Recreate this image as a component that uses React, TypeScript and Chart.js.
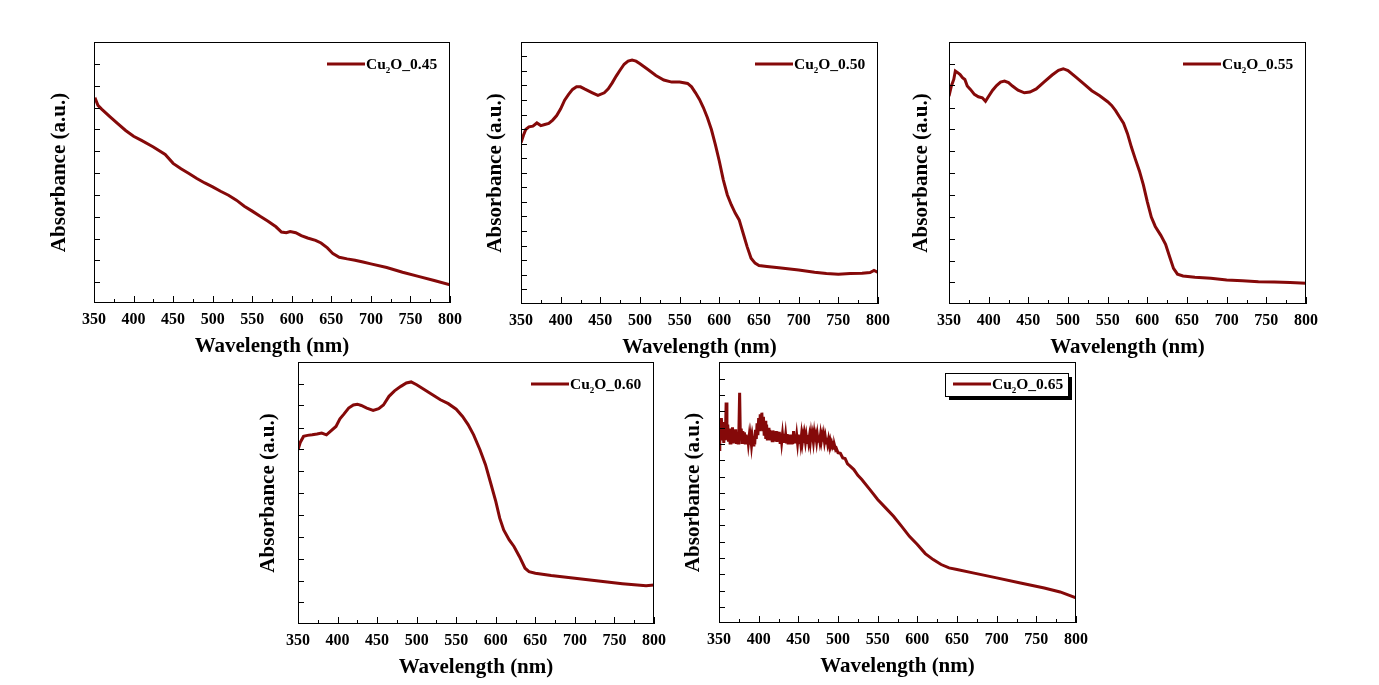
import React, { useEffect, useRef } from "react";
import { Chart, registerables } from "chart.js";

Chart.register(...registerables);

// ---------------- data ----------------
const X_MIN = 350;
const X_MAX = 800;
const X_LABEL = "Wavelength (nm)";
const Y_LABEL = "Absorbance (a.u.)";
const LINE_COLOR = "#850909";
const FONT = "'Liberation Serif', 'Times New Roman', serif";

const labels = ["Cu₂O_0.45", "Cu₂O_0.50", "Cu₂O_0.55", "Cu₂O_0.60", "Cu₂O_0.65"];

const wl1 = [350, 352, 355, 360, 370, 380, 390, 400, 410, 425, 440, 450, 460, 470, 480, 490, 500, 510, 520, 530, 540, 550, 560, 570, 580, 587, 593, 598, 605, 612, 620, 630, 637, 645, 652, 660, 670, 680, 690, 700, 720, 740, 760, 780, 800];
const ab1 = [0.774, 0.780, 0.757, 0.742, 0.714, 0.687, 0.661, 0.639, 0.623, 0.598, 0.569, 0.535, 0.514, 0.496, 0.477, 0.460, 0.445, 0.428, 0.413, 0.394, 0.371, 0.352, 0.332, 0.313, 0.292, 0.272, 0.269, 0.274, 0.269, 0.258, 0.249, 0.240, 0.230, 0.211, 0.189, 0.175, 0.169, 0.164, 0.157, 0.150, 0.136, 0.118, 0.102, 0.086, 0.070];

const wl2 = [350, 353, 356, 360, 365, 370, 375, 380, 385, 390, 395, 400, 405, 410, 415, 420, 425, 430, 440, 447, 455, 460, 465, 470, 475, 480, 485, 490, 495, 500, 510, 520, 530, 540, 550, 560, 565, 570, 575, 580, 585, 590, 595, 600, 605, 610, 615, 620, 625, 630, 635, 640, 645, 650, 660, 675, 700, 720, 735, 750, 765, 780, 790, 795, 800];
const ab2 = [0.615, 0.643, 0.666, 0.676, 0.679, 0.691, 0.681, 0.685, 0.689, 0.702, 0.719, 0.745, 0.778, 0.800, 0.819, 0.829, 0.829, 0.821, 0.806, 0.796, 0.806, 0.821, 0.844, 0.870, 0.893, 0.915, 0.927, 0.931, 0.927, 0.917, 0.895, 0.872, 0.855, 0.847, 0.847, 0.842, 0.829, 0.806, 0.781, 0.749, 0.711, 0.666, 0.608, 0.545, 0.474, 0.417, 0.379, 0.347, 0.321, 0.270, 0.219, 0.175, 0.156, 0.147, 0.143, 0.138, 0.130, 0.121, 0.116, 0.114, 0.116, 0.117, 0.120, 0.128, 0.121];

const wl3 = [350, 353, 356, 358, 361, 364, 367, 370, 373, 377, 382, 387, 392, 396, 400, 405, 410, 415, 420, 425, 430, 437, 445, 452, 460, 470, 480, 488, 494, 500, 510, 520, 530, 540, 550, 555, 560, 565, 570, 575, 580, 585, 590, 595, 600, 605, 610, 617, 623, 628, 633, 638, 645, 660, 680, 700, 720, 740, 760, 780, 800];
const ab3 = [0.793, 0.832, 0.857, 0.889, 0.883, 0.876, 0.864, 0.857, 0.832, 0.819, 0.800, 0.791, 0.787, 0.774, 0.793, 0.816, 0.834, 0.847, 0.851, 0.845, 0.832, 0.816, 0.806, 0.809, 0.821, 0.848, 0.874, 0.892, 0.898, 0.891, 0.866, 0.840, 0.814, 0.795, 0.772, 0.758, 0.738, 0.714, 0.690, 0.650, 0.598, 0.552, 0.508, 0.455, 0.390, 0.332, 0.296, 0.262, 0.228, 0.181, 0.136, 0.114, 0.107, 0.102, 0.098, 0.092, 0.089, 0.085, 0.084, 0.082, 0.079];

const wl4 = [350, 353, 357, 362, 368, 374, 380, 386, 392, 398, 403, 408, 414, 420, 425, 430, 437, 445, 452, 458, 465, 472, 480, 487, 493, 500, 510, 520, 530, 540, 550, 558, 565, 572, 580, 587, 593, 600, 605, 610, 617, 623, 630, 637, 642, 650, 670, 700, 730, 760, 790, 800];
const ab4 = [0.665, 0.694, 0.716, 0.720, 0.722, 0.725, 0.729, 0.722, 0.738, 0.754, 0.783, 0.801, 0.824, 0.836, 0.839, 0.834, 0.824, 0.815, 0.822, 0.836, 0.869, 0.890, 0.907, 0.920, 0.924, 0.913, 0.894, 0.875, 0.856, 0.841, 0.820, 0.792, 0.761, 0.722, 0.665, 0.608, 0.544, 0.468, 0.404, 0.359, 0.321, 0.296, 0.257, 0.213, 0.200, 0.194, 0.185, 0.175, 0.164, 0.154, 0.146, 0.149];

// Cu2O_0.65 : [wavelength, absorbance] pairs (noisy below ~490 nm)
const spectrum5: [number, number][] = [
  [350, 0.665], [351, 0.760], [352, 0.700], [353, 0.785], [354, 0.705], [355, 0.770], [356, 0.690], [357, 0.755],
  [358, 0.700], [359, 0.845], [360, 0.720], [361, 0.760], [362, 0.695], [363, 0.745], [364, 0.690], [365, 0.738],
  [366, 0.700], [367, 0.750], [368, 0.688], [369, 0.735], [370, 0.692], [371, 0.742], [372, 0.686], [373, 0.730],
  [374, 0.690], [375, 0.725], [376, 0.882], [377, 0.700], [378, 0.745], [379, 0.692], [380, 0.735], [381, 0.688],
  [382, 0.730], [383, 0.690], [384, 0.722], [385, 0.685], [386, 0.718], [387, 0.688], [388, 0.715], [389, 0.684],
  [390, 0.712], [391, 0.680], [392, 0.708], [393, 0.682], [394, 0.705], [395, 0.684], [396, 0.740], [397, 0.705],
  [398, 0.765], [399, 0.720], [400, 0.785], [401, 0.735], [402, 0.800], [403, 0.745], [404, 0.806], [405, 0.735],
  [406, 0.790], [407, 0.718], [408, 0.775], [409, 0.705], [410, 0.760], [411, 0.700], [412, 0.748], [413, 0.702],
  [414, 0.740], [415, 0.700], [416, 0.735], [417, 0.698], [418, 0.738], [419, 0.700], [420, 0.732], [421, 0.696],
  [422, 0.735], [423, 0.694], [424, 0.728], [425, 0.697], [426, 0.732], [427, 0.692], [428, 0.726], [429, 0.694],
  [430, 0.722], [431, 0.690], [432, 0.725], [433, 0.692], [434, 0.720], [435, 0.688], [436, 0.724], [437, 0.690],
  [438, 0.718], [439, 0.688], [440, 0.722], [441, 0.690], [442, 0.716], [443, 0.686], [444, 0.735], [445, 0.690],
  [446, 0.720], [447, 0.688], [448, 0.718], [449, 0.690], [450, 0.722], [451, 0.692], [452, 0.716], [453, 0.690],
  [454, 0.720], [455, 0.692], [456, 0.715], [457, 0.690], [458, 0.718], [459, 0.694], [460, 0.716], [461, 0.692],
  [462, 0.720], [463, 0.695], [464, 0.716], [465, 0.692], [466, 0.722], [467, 0.696], [468, 0.718], [469, 0.694],
  [470, 0.724], [471, 0.698], [472, 0.716], [473, 0.694], [474, 0.720], [475, 0.696], [476, 0.718], [477, 0.698],
  [478, 0.722], [479, 0.697], [480, 0.716], [481, 0.695], [482, 0.718], [483, 0.694], [484, 0.712], [485, 0.690],
  [486, 0.710], [487, 0.688], [488, 0.704], [489, 0.684], [490, 0.698], [491, 0.680], [492, 0.690], [493, 0.676],
  [494, 0.684], [495, 0.670], [496, 0.676], [497, 0.664], [498, 0.668], [500, 0.652], [503, 0.650], [506, 0.632],
  [509, 0.630], [512, 0.610], [515, 0.602], [520, 0.588], [525, 0.566], [530, 0.550], [540, 0.512], [550, 0.473],
  [560, 0.441], [570, 0.409], [580, 0.371], [590, 0.332], [600, 0.301], [610, 0.266], [620, 0.243], [630, 0.224],
  [640, 0.211], [650, 0.205], [670, 0.192], [700, 0.173], [730, 0.153], [760, 0.134], [780, 0.119], [800, 0.096],
];
const wl5 = spectrum5.map((d) => d[0]);
const ab5 = spectrum5.map((d) => d[1]);

// unlabeled y tick positions (axis units, 0..1)
const yTicks1 = [0.080, 0.163, 0.247, 0.331, 0.414, 0.498, 0.582, 0.665, 0.749, 0.833, 0.917];
const yTicks2 = [0.056, 0.112, 0.167, 0.223, 0.278, 0.334, 0.390, 0.445, 0.501, 0.556, 0.612, 0.668, 0.723, 0.779, 0.834, 0.890, 0.946];
const yTicks3 = [0.083, 0.166, 0.250, 0.333, 0.417, 0.500, 0.583, 0.667, 0.750, 0.834, 0.917];
const yTicks4 = [0.083, 0.166, 0.250, 0.333, 0.417, 0.500, 0.583, 0.667, 0.750, 0.834, 0.917];
const yTicks5 = [0.061, 0.124, 0.186, 0.249, 0.311, 0.374, 0.436, 0.499, 0.561, 0.624, 0.686, 0.749, 0.811, 0.874, 0.936];

// ---------------- layout ----------------
type Panel = {
  wl: number[];
  ab: number[];
  label: string;
  yTicks: number[];
  left: number;
  top: number;
  w: number;
  h: number;
  yTitleGap: number;
  box: boolean;
};

const panels: Panel[] = [
  { wl: wl1, ab: ab1, label: labels[0], yTicks: yTicks1, left: 94, top: 42, w: 356, h: 261, yTitleGap: 34, box: false },
  { wl: wl2, ab: ab2, label: labels[1], yTicks: yTicks2, left: 521, top: 42, w: 357, h: 262, yTitleGap: 25, box: false },
  { wl: wl3, ab: ab3, label: labels[2], yTicks: yTicks3, left: 949, top: 42, w: 357, h: 262, yTitleGap: 27, box: false },
  { wl: wl4, ab: ab4, label: labels[3], yTicks: yTicks4, left: 298, top: 362, w: 356, h: 262, yTitleGap: 29.5, box: false },
  { wl: wl5, ab: ab5, label: labels[4], yTicks: yTicks5, left: 719, top: 362, w: 357, h: 261, yTitleGap: 25, box: true },
];

const PAD_L = 60;
const PAD_T = 15;
const PAD_R = 30;
const PAD_B = 60;
const TITLE_SIZE = 21;
const TICK_SIZE = 16;

function makeFramePlugin(p: Panel) {
  return {
    id: "frame",
    afterDraw(chart: any) {
      const { ctx, chartArea: a, scales } = chart;
      const xs = scales.x;
      const ys = scales.y;
      ctx.save();
      ctx.strokeStyle = "#000";
      ctx.lineWidth = 1;
      ctx.strokeRect(a.left + 0.5, a.top + 0.5, a.right - a.left - 1, a.bottom - a.top - 1);
      ctx.beginPath();
      for (let v = X_MIN; v <= X_MAX; v += 25) {
        const px = Math.round(xs.getPixelForValue(v)) + 0.5;
        const len = (v - X_MIN) % 50 === 0 ? 7 : 4;
        ctx.moveTo(px, a.bottom);
        ctx.lineTo(px, a.bottom - len);
      }
      for (const t of ys.ticks) {
        const py = Math.round(ys.getPixelForValue(t.value)) + 0.5;
        ctx.moveTo(a.left, py);
        ctx.lineTo(a.left + 6, py);
      }
      ctx.stroke();

      // legend
      const ds = chart.data.datasets[0];
      const lx = a.right - 123;
      const ly = a.top + 22;
      if (p.box) {
        const bx = a.right - 131;
        const by = a.top + 11;
        const bw = 123;
        const bh = 23;
        ctx.fillStyle = "#000";
        ctx.fillRect(bx + 4, by + 4, bw, bh);
        ctx.fillStyle = "#fff";
        ctx.fillRect(bx, by, bw, bh);
        ctx.strokeStyle = "#000";
        ctx.lineWidth = 1;
        ctx.strokeRect(bx + 0.5, by + 0.5, bw, bh);
      }
      ctx.strokeStyle = ds.borderColor;
      ctx.lineWidth = 3;
      ctx.beginPath();
      ctx.moveTo(lx, ly);
      ctx.lineTo(lx + 38, ly);
      ctx.stroke();

      const text: string = ds.label;
      const idx = text.indexOf("₂");
      const before = idx >= 0 ? text.slice(0, idx) : text;
      const after = idx >= 0 ? text.slice(idx + 1) : "";
      const base = ly + 5;
      let x = lx + 39;
      ctx.fillStyle = "#000";
      ctx.textAlign = "left";
      ctx.textBaseline = "alphabetic";
      ctx.font = `bold 15.5px ${FONT}`;
      ctx.fillText(before, x, base);
      x += ctx.measureText(before).width;
      if (idx >= 0) {
        ctx.font = `bold 9px ${FONT}`;
        ctx.fillText("2", x, base + 4);
        x += ctx.measureText("2").width;
        ctx.font = `bold 15.5px ${FONT}`;
        ctx.fillText(after, x, base);
      }
      ctx.restore();
    },
  };
}

function PanelChart({ p }: { p: Panel }) {
  const ref = useRef<HTMLCanvasElement | null>(null);
  const cw = p.w + PAD_L + PAD_R;
  const ch = p.h + PAD_T + PAD_B;
  useEffect(() => {
    if (!ref.current) return;
    const titleHalf = (TITLE_SIZE * 1.2) / 2;
    const chart = new Chart(ref.current, {
      type: "line",
      data: {
        datasets: [
          {
            label: p.label,
            data: p.wl.map((x, i) => ({ x, y: p.ab[i] })),
            borderColor: LINE_COLOR,
            backgroundColor: LINE_COLOR,
            borderWidth: 3,
            pointRadius: 0,
            tension: 0,
            fill: false,
          },
        ],
      },
      options: {
        responsive: false,
        animation: false,
        events: [],
        layout: { padding: { top: PAD_T, right: PAD_R, left: 0, bottom: 0 } },
        plugins: { legend: { display: false }, tooltip: { enabled: false } },
        scales: {
          x: {
            type: "linear",
            position: "bottom",
            min: X_MIN,
            max: X_MAX,
            grid: { display: false, drawTicks: false },
            border: { display: false },
            ticks: {
              stepSize: 50,
              autoSkip: false,
              maxRotation: 0,
              color: "#000",
              padding: 7,
              font: { family: FONT, size: TICK_SIZE, weight: "bold" },
            },
            title: {
              display: true,
              text: X_LABEL,
              color: "#000",
              font: { family: FONT, size: TITLE_SIZE, weight: "bold" },
              padding: { top: 0, bottom: PAD_B - 44 - titleHalf },
            },
            afterFit: (s: any) => {
              s.height = PAD_B;
              s.paddingLeft = 0;
              s.paddingRight = 0;
            },
          },
          y: {
            type: "linear",
            min: 0,
            max: 1,
            grid: { display: false, drawTicks: false },
            border: { display: false },
            ticks: { display: false },
            afterBuildTicks: (s: any) => {
              s.ticks = p.yTicks.map((v) => ({ value: v }));
            },
            title: {
              display: true,
              text: Y_LABEL,
              color: "#000",
              font: { family: FONT, size: TITLE_SIZE, weight: "bold" },
              padding: { top: PAD_L - p.yTitleGap - titleHalf, bottom: 0 },
            },
            afterFit: (s: any) => {
              s.width = PAD_L;
              s.paddingTop = 0;
              s.paddingBottom = 0;
            },
          },
        },
      } as any,
      plugins: [makeFramePlugin(p)],
    });
    return () => chart.destroy();
  }, [p]);
  return (
    <canvas
      ref={ref}
      width={cw}
      height={ch}
      style={{ position: "absolute", left: p.left - PAD_L, top: p.top - PAD_T, width: cw, height: ch }}
    />
  );
}

export default function App() {
  return (
    <div style={{ position: "absolute", left: 0, top: 0, width: 1379, height: 685, background: "#fff" }}>
      {panels.map((p, i) => (
        <PanelChart key={i} p={p} />
      ))}
    </div>
  );
}
